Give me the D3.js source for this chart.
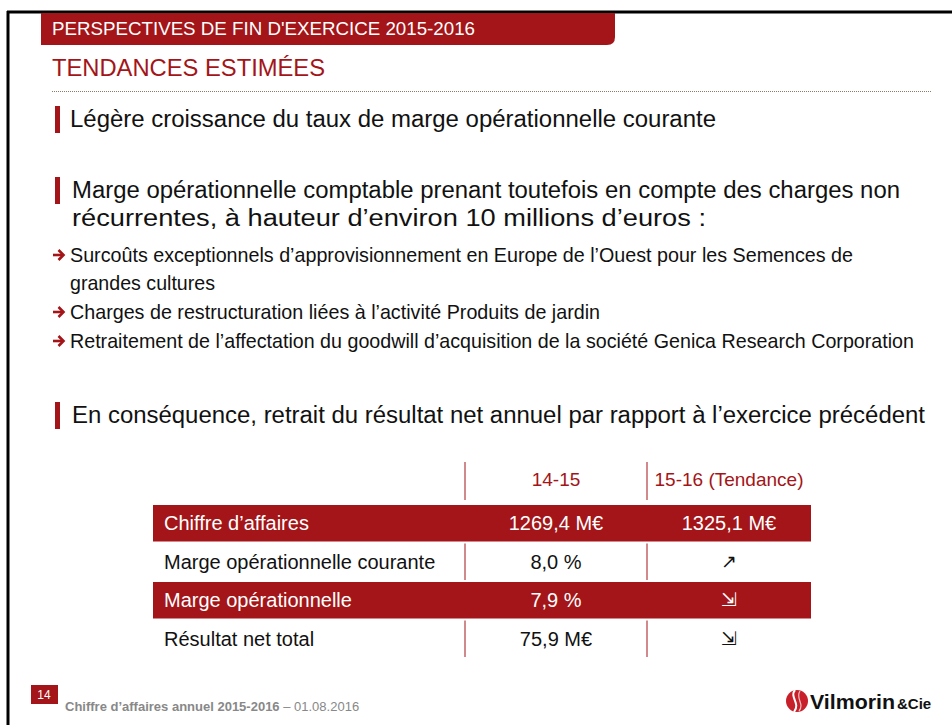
<!DOCTYPE html>
<html><head><meta charset="utf-8">
<script src="https://cdn.jsdelivr.net/npm/d3@7"></script>
<style>body{margin:0;background:#fff}svg{display:block}text{font-family:"Liberation Sans",Arial,sans-serif}</style>
</head><body>
<script>
// ---- data ----
const slideTitle = "PERSPECTIVES DE FIN D'EXERCICE 2015-2016";
const sectionTitle = "TENDANCES ESTIMÉES";
const bullets = [
  ["Légère croissance du taux de marge opérationnelle courante"],
  ["Marge opérationnelle comptable prenant toutefois en compte des charges non", "récurrentes, à hauteur d’environ 10 millions d’euros :"],
  ["En conséquence, retrait du résultat net annuel par rapport à l’exercice précédent"]
];
const subBullets = [
  ["Surcoûts exceptionnels d’approvisionnement en Europe de l’Ouest pour les Semences de", "grandes cultures"],
  ["Charges de restructuration liées à l’activité Produits de jardin"],
  ["Retraitement de l’affectation du goodwill d’acquisition de la société Genica Research Corporation"]
];
const columnHeaders = ["14-15", "15-16 (Tendance)"];
const rowLabels = ["Chiffre d’affaires", "Marge opérationnelle courante", "Marge opérationnelle", "Résultat net total"];
const values1415 = ["1269,4 M€", "8,0 %", "7,9 %", "75,9 M€"];
const values1516 = ["1325,1 M€", "↗", "⇲", "⇲"];
const highlightedRows = [true, false, true, false];
const footerTitle = "Chiffre d’affaires annuel 2015-2016";
const footerDate = " – 01.08.2016";
const pageNumber = "14";

const RED = "#a31518";
const W = 952, H = 725;
const svg = d3.select("body").append("svg").attr("width", W).attr("height", H);

// frame
svg.append("line").attr("x1", 7).attr("x2", W).attr("y1", 12).attr("y2", 12).attr("stroke", "#000").attr("stroke-width", 3);
svg.append("line").attr("x1", 8).attr("x2", 8).attr("y1", 11).attr("y2", H).attr("stroke", "#000").attr("stroke-width", 3);

// header bar with rounded bottom-right corner
svg.append("path").attr("fill", RED)
  .attr("d", "M41,13 H615 V37 Q615,45 607,45 H41 Z");
svg.append("text").attr("x", 52).attr("y", 35).attr("fill", "#fff")
  .attr("font-size", 19).attr("textLength", 423).attr("lengthAdjust", "spacingAndGlyphs")
  .text(slideTitle);
svg.append("text").attr("x", 52).attr("y", 76).attr("fill", RED)
  .attr("font-size", 24).attr("textLength", 273).attr("lengthAdjust", "spacingAndGlyphs")
  .text(sectionTitle);
svg.append("line").attr("x1", 52).attr("x2", 932).attr("y1", 91.5).attr("y2", 91.5)
  .attr("stroke", "#8a7a6a").attr("stroke-width", 1).attr("stroke-dasharray", "1,1");

// main bullets
const bulletTops = [106, 177, 402];
const bulletLens = [[646], [828, 634], [853]];
bullets.forEach((lines, i) => {
  const y0 = bulletTops[i];
  svg.append("rect").attr("x", 55).attr("y", y0).attr("width", 5).attr("height", 27).attr("fill", RED);
  lines.forEach((t, j) => {
    svg.append("text").attr("x", i === 0 ? 70 : 72).attr("y", y0 + 21 + j * 28)
      .attr("font-size", 23).attr("fill", "#111")
      .attr("textLength", bulletLens[i][j]).attr("lengthAdjust", "spacingAndGlyphs")
      .text(t);
  });
});

// sub bullets
const subTops = [262, 319, 348];
const subLens = [[783, 145], [530], [844]];
subBullets.forEach((lines, i) => {
  const y = subTops[i];
  const ay = y - 7;
  const a = svg.append("g").attr("stroke", RED).attr("stroke-width", 2.6).attr("fill", "none");
  a.append("line").attr("x1", 53).attr("x2", 63).attr("y1", ay).attr("y2", ay);
  a.append("polyline").attr("points", `${58.5},${ay - 5} ${63.5},${ay} ${58.5},${ay + 5}`);
  lines.forEach((t, j) => {
    svg.append("text").attr("x", 70).attr("y", y + j * 28)
      .attr("font-size", 21).attr("fill", "#111")
      .attr("textLength", subLens[i][j]).attr("lengthAdjust", "spacingAndGlyphs")
      .text(t);
  });
});

// table
const colKeys = ["label", "c1", "c2", "end"];
const xEdge = d3.scaleOrdinal().domain(colKeys).range([153, 465, 647, 811]);
const y = d3.scaleBand().domain(rowLabels).range([504, 658]);
const colCenter = k => (xEdge(k) + xEdge(colKeys[colKeys.indexOf(k) + 1])) / 2;

// header row
svg.append("line").attr("x1", xEdge("c1")).attr("x2", xEdge("c1")).attr("y1", 462).attr("y2", 500).attr("stroke", RED);
svg.append("line").attr("x1", xEdge("c2")).attr("x2", xEdge("c2")).attr("y1", 462).attr("y2", 500).attr("stroke", RED);
columnHeaders.forEach((h, i) => {
  svg.append("text").attr("x", colCenter(["c1", "c2"][i])).attr("y", 486).attr("text-anchor", "middle")
    .attr("font-size", 19).attr("fill", RED).text(h);
});

const rows = svg.selectAll("g.row").data(rowLabels).join("g").attr("class", "row");
rows.each(function (lab, i) {
  const g = d3.select(this);
  const top = y(lab), h = y.bandwidth();
  const hi = highlightedRows[i];
  if (hi) {
    g.append("rect").attr("x", xEdge("label")).attr("y", top + 1).attr("width", xEdge("end") - xEdge("label"))
      .attr("height", h - 2).attr("fill", RED);
  } else {
    ["c1", "c2"].forEach(k => g.append("line").attr("x1", xEdge(k)).attr("x2", xEdge(k))
      .attr("y1", top + 1).attr("y2", top + h - 1).attr("stroke", RED));
  }
  const col = hi ? "#fff" : "#111";
  const by = top + h / 2 + 7;
  g.append("text").attr("x", 164).attr("y", by).attr("font-size", 20).attr("fill", col).text(lab);
  g.append("text").attr("x", colCenter("c1")).attr("y", by).attr("text-anchor", "middle")
    .attr("font-size", 20).attr("fill", col).text(values1415[i]);
  const v2 = values1516[i];
  const isArrow = v2 === "↗" || v2 === "⇲";
  g.append("text").attr("x", colCenter("c2")).attr("y", by - (isArrow ? 1 : 0)).attr("text-anchor", "middle")
    .attr("font-size", isArrow ? 19 : 20)
    .attr("font-family", isArrow ? "DejaVu Sans" : null)
    .attr("fill", col).text(v2);
});

// footer
svg.append("rect").attr("x", 31).attr("y", 685).attr("width", 27).attr("height", 19).attr("fill", RED);
svg.append("text").attr("x", 44).attr("y", 699).attr("text-anchor", "middle").attr("font-size", 12)
  .attr("fill", "#fff").text(pageNumber);
const ft = svg.append("text").attr("x", 65).attr("y", 711).attr("font-size", 13).attr("fill", "#888");
ft.append("tspan").attr("font-weight", "bold").text(footerTitle);
ft.append("tspan").text(footerDate);

// logo
const logo = svg.append("g").attr("transform", "translate(797,701)");
logo.append("circle").attr("r", 11).attr("fill", "#c8202a");
logo.append("path").attr("d", "M-2,-11 C-8,-4 4,2 -3,11").attr("stroke", "#fff").attr("stroke-width", 2).attr("fill", "none");
logo.append("path").attr("d", "M3,-10 C-2,-3 8,3 2,10").attr("stroke", "#f3c0c0").attr("stroke-width", 1.2).attr("fill", "none");
const lt = svg.append("text").attr("x", 810).attr("y", 709).attr("font-weight", "bold").attr("fill", "#111");
lt.append("tspan").attr("font-size", 21).attr("textLength", 85).attr("lengthAdjust", "spacingAndGlyphs").text("Vilmorin");
lt.append("tspan").attr("font-size", 15).attr("dx", 2).text("&Cie");
</script>
</body></html>
